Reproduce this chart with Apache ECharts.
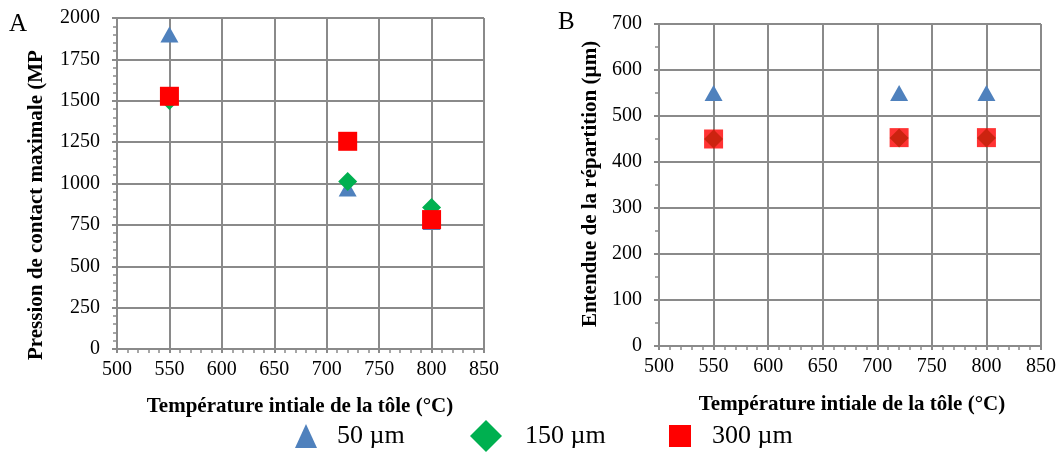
<!DOCTYPE html>
<html>
<head>
<meta charset="utf-8">
<script src="https://cdn.jsdelivr.net/npm/echarts@6/dist/echarts.min.js"></script>
<style>
html,body{margin:0;padding:0;background:#fff;}
#chart{width:1064px;height:455px;}
</style>
</head>
<body>
<div id="chart"></div>
<script>
// ---- data ----
const temps = [550, 720, 800];
const seriesNames = ['50 µm', '150 µm', '300 µm'];
const pressure50 = [1900, 970, 768];
const pressure150 = [1502, 1012, 855];
const pressure300 = [1527, 1255, 782];
const spread50 = [550, 550, 550];
const spread150 = [450, 452, 452];
const spread300 = [450, 453, 453];
const xTitle = 'Température intiale de la tôle (°C)';
const yTitleA = 'Pression de contact maximale (MP';
const yTitleB = 'Entendue de la répartition (µm)';

const FONT = '"Liberation Serif", "Times New Roman", serif';
const GRID_COLOR = '#8a8a8a';
const colors = ['#4F81BD', '#00B050', '#FF0000'];

function pts(vals) { return temps.map((t, i) => [t, vals[i]]); }
const plain = v => String(v);

function xAxisCfg(gridIndex) {
  return {
    type: 'value', gridIndex: gridIndex, min: 500, max: 850, interval: 50,
    axisLine: { show: true, onZero: false, lineStyle: { color: GRID_COLOR, width: 2 } },
    axisTick: { show: true, length: 4, lineStyle: { color: GRID_COLOR, width: 2 } },
    minorTick: { show: true, splitNumber: 5, length: 4, lineStyle: { color: GRID_COLOR, width: 1.5 } },
    splitLine: { show: true, lineStyle: { color: GRID_COLOR, width: 2 } },
    axisLabel: { margin: 11, color: '#000', fontFamily: FONT, fontSize: 20, formatter: plain }
  };
}
function yAxisCfg(gridIndex, max, interval, minorSplit) {
  return {
    type: 'value', gridIndex: gridIndex, min: 0, max: max, interval: interval,
    axisLine: { show: true, lineStyle: { color: GRID_COLOR, width: 2 } },
    axisTick: { show: true, length: 5, lineStyle: { color: GRID_COLOR, width: 2 } },
    minorTick: { show: true, splitNumber: minorSplit, length: 4, lineStyle: { color: GRID_COLOR, width: 1.5 } },
    splitLine: { show: true, lineStyle: { color: GRID_COLOR, width: 2 } },
    axisLabel: { margin: 17, color: '#000', fontFamily: FONT, fontSize: 20, formatter: plain }
  };
}

const symbols = ['triangle', 'diamond', 'rect'];
const sizes = [[18, 16], [19, 19], [19, 19]];
const dataA = [pressure50, pressure150, pressure300];
const dataB = [spread50, spread150, spread300];

const series = [];
for (let i = 0; i < 3; i++) {
  series.push({
    name: seriesNames[i], type: 'scatter', xAxisIndex: 0, yAxisIndex: 0,
    symbol: symbols[i], symbolSize: sizes[i], z: 2 + i,
    itemStyle: { color: colors[i], opacity: 1 },
    data: pts(dataA[i])
  });
}
for (let i = 0; i < 3; i++) {
  series.push({
    name: seriesNames[i], type: 'scatter', xAxisIndex: 1, yAxisIndex: 1,
    symbol: symbols[i], symbolSize: sizes[i], z: 2 + i,
    itemStyle: { color: colors[i], opacity: i === 2 ? 0.8 : 1 },
    data: pts(dataB[i])
  });
}

const legendDefs = [
  { left: 295, w: 22, h: 24, pad: 15, icon: 'triangle' },
  { left: 470, w: 32, h: 32, pad: 18, icon: 'diamond' },
  { left: 669, w: 22, h: 22, pad: 16, icon: 'rect' }
];
const legends = legendDefs.map((d, i) => ({
  data: [{ name: seriesNames[i], icon: d.icon }],
  left: d.left, top: 420, orient: 'horizontal', padding: 0,
  itemWidth: d.w, itemHeight: d.h, selectedMode: false,
  textStyle: { fontFamily: FONT, fontSize: 26, color: '#000', lineHeight: 32, padding: [0, 0, 0, d.pad] }
}));

const titleStyle = { fontFamily: FONT, fontSize: 21, fontWeight: 'bold', fill: '#000' };

const option = {
  animation: false,
  backgroundColor: '#fff',
  grid: [
    { left: 117, right: 580, top: 18, bottom: 106 },
    { left: 659, right: 23, top: 24, bottom: 109 }
  ],
  xAxis: [xAxisCfg(0), xAxisCfg(1)],
  yAxis: [yAxisCfg(0, 2000, 250, 5), yAxisCfg(1, 700, 100, 2)],
  legend: legends,
  series: series,
  graphic: [
    { type: 'text', left: 9, top: 12, style: { text: 'A', fontFamily: FONT, fontSize: 25, fill: '#000' } },
    { type: 'text', left: 558, top: 10, style: { text: 'B', fontFamily: FONT, fontSize: 25, fill: '#000' } },
    { type: 'text', x: 37, y: 360, rotation: Math.PI / 2,
      style: Object.assign({ text: yTitleA, textAlign: 'left', textVerticalAlign: 'middle' }, titleStyle) },
    { type: 'text', x: 591, y: 184, rotation: Math.PI / 2,
      style: Object.assign({ text: yTitleB, textAlign: 'center', textVerticalAlign: 'middle' }, titleStyle) },
    { type: 'text', x: 300, y: 407,
      style: Object.assign({ text: xTitle, textAlign: 'center', textVerticalAlign: 'middle' }, titleStyle) },
    { type: 'text', x: 852, y: 405,
      style: Object.assign({ text: xTitle, textAlign: 'center', textVerticalAlign: 'middle' }, titleStyle) }
  ]
};

const chart = echarts.init(document.getElementById('chart'), null, { renderer: 'canvas' });
chart.setOption(option);
</script>
</body>
</html>
